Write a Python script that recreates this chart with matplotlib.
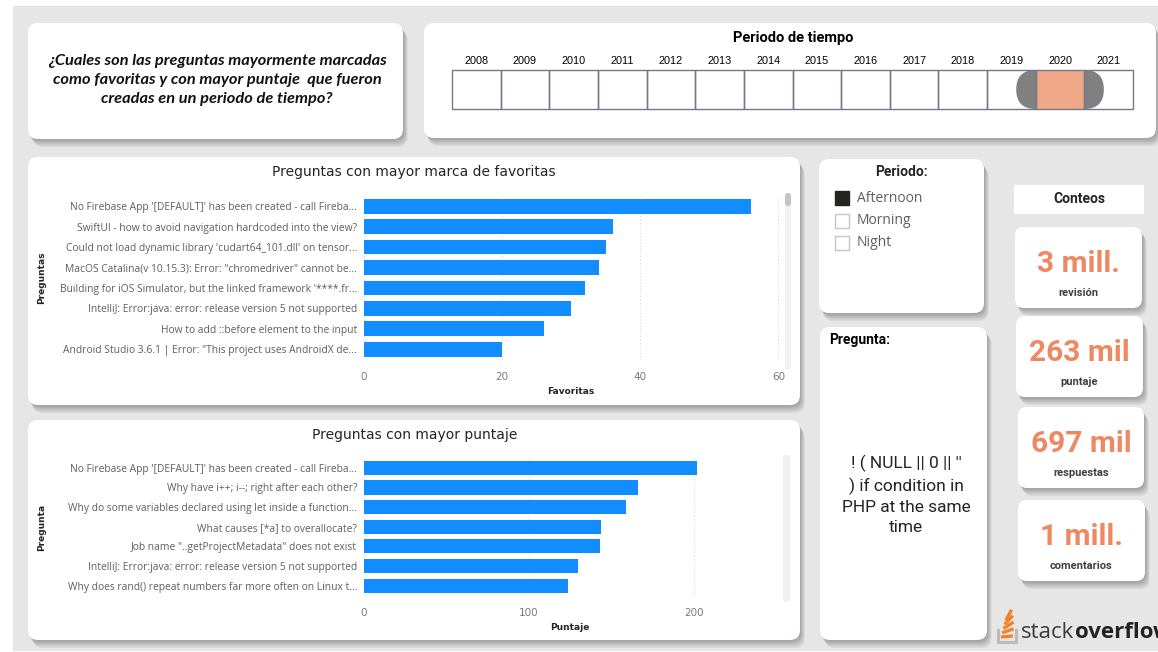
import numpy as np
import matplotlib.pyplot as plt
from matplotlib.patches import FancyBboxPatch, Rectangle

W, H = 1158, 652

# ── Data ─────────────────────────────────────────────────────────
fav_labels = [
    "No Firebase App '[DEFAULT]' has been created - call Fireba...",
    "SwiftUI - how to avoid navigation hardcoded into the view?",
    "Could not load dynamic library 'cudart64_101.dll' on tensor...",
    "MacOS Catalina(v 10.15.3): Error: \"chromedriver\" cannot be...",
    "Building for iOS Simulator, but the linked framework '****.fr...",
    "IntelliJ: Error:java: error: release version 5 not supported",
    "How to add ::before element to the input",
    "Android Studio 3.6.1 | Error: \"This project uses AndroidX de...",
]
fav_values = [56, 36, 35, 34, 32, 30, 26, 20]

score_labels = [
    "No Firebase App '[DEFAULT]' has been created - call Fireba...",
    "Why have i++; i--; right after each other?",
    "Why do some variables declared using let inside a function...",
    "What causes [*a] to overallocate?",
    "Job name \"..getProjectMetadata\" does not exist",
    "IntelliJ: Error:java: error: release version 5 not supported",
    "Why does rand() repeat numbers far more often on Linux t...",
]
score_values = [202, 166, 159, 144, 143, 130, 124]

years = list(range(2008, 2022))
selected_year = 2020

periods = ["Afternoon", "Morning", "Night"]
selected_period = "Afternoon"

kpi_values = ["3 mill.", "263 mil", "697 mil", "1 mill."]
kpi_names = ["revisión", "puntaje", "respuestas", "comentarios"]

pregunta = "! ( NULL || 0 || ''\n) if condition in\nPHP at the same\ntime"

question = ("¿Cuales son las preguntas mayormente marcadas\n"
            "como favoritas y con mayor puntaje  que fueron\n"
            "creadas en un periodo de tiempo?")

BLUE = '#118DFF'
ORANGE = '#EE8862'
DARK = '#252423'
GRAY_TXT = '#605E5C'

# ── Canvas in pixel coordinates ──────────────────────────────────
fig = plt.figure(figsize=(W / 100, H / 100), dpi=100)
fig.patch.set_facecolor('white')
bg = fig.add_axes([0, 0, 1, 1])
bg.set_xlim(0, W)
bg.set_ylim(H, 0)
bg.axis('off')
bg.add_patch(Rectangle((13, 6), W - 13, 644, color='#E6E6E6', zorder=0))


def panel(x0, y0, x1, y1, r=10, shadow=True):
    if shadow:
        for i in range(6):
            off = 1.5 + i * 1.3
            bg.add_patch(FancyBboxPatch(
                (x0 + off * 0.6, y0 + off), x1 - x0, y1 - y0,
                boxstyle=f'round,pad=0,rounding_size={r}',
                fc='black', ec='none', alpha=0.05, zorder=1))
    bg.add_patch(FancyBboxPatch(
        (x0, y0), x1 - x0, y1 - y0,
        boxstyle=f'round,pad=0,rounding_size={r}',
        fc='white', ec='none', zorder=2))


def ax_px(x0, y0, x1, y1):
    return fig.add_axes([x0 / W, 1 - y1 / H, (x1 - x0) / W, (y1 - y0) / H])


# ── Panels ───────────────────────────────────────────────────────
panel(28, 23, 403, 139)
panel(424, 23, 1156, 138)
panel(28, 157, 800, 405)
panel(28, 420, 800, 640)
panel(819, 159, 984, 313)
panel(820, 327, 987, 640)
kpi_boxes = [(1015, 227, 1142, 308), (1016, 316, 1143, 397),
             (1018, 407, 1144, 488), (1018, 500, 1145, 581)]
for (x0, y0, x1, y1) in kpi_boxes:
    panel(x0, y0, x1, y1, r=9)
bg.add_patch(Rectangle((1014, 185), 130, 29, fc='white', ec='none', zorder=2))

# ── Question text ───────────────────────────────────────────────
bg.text(217, 80, question, ha='center', va='center', fontsize=11.8,
        family='Lato', weight='bold', style='italic', color='#111111',
        linespacing=1.5, zorder=3)

# ── Period timeline ──────────────────────────────────────────────
bg.text(793, 38, 'Periodo de tiempo', ha='center', va='center',
        fontsize=10.5, family='Roboto', weight='bold', color='black', zorder=3)
bx0, bx1, by0, by1 = 452, 1133, 70, 109
bw = (bx1 - bx0) / len(years)
for i, yr in enumerate(years):
    x = bx0 + i * bw
    bg.text(x + bw / 2, 61, str(yr), ha='center', va='center', fontsize=7.8,
            family=['Liberation Sans Narrow', 'Liberation Sans'],
            color='black', zorder=3)
    if yr == selected_year:
        rr = (by1 - by0) / 2
        bg.add_patch(FancyBboxPatch(
            (x - rr, by0), bw + 2 * rr, by1 - by0,
            boxstyle=f'round,pad=0,rounding_size={rr}',
            fc='#808080', ec='none', zorder=3))
        bg.add_patch(Rectangle((x, by0), bw, by1 - by0, fc='#F0A888',
                               ec='none', zorder=4))
    bg.add_patch(Rectangle((x, by0), bw, by1 - by0, fc='none',
                           ec='#77778A', lw=1, zorder=5))

# ── Bar charts ───────────────────────────────────────────────────
def bar_chart(box, labels, values, xmax, ticks):
    ax = ax_px(*box)
    n = len(values)
    ax.barh(np.arange(n), values, height=0.72, color=BLUE, zorder=3)
    ax.set_ylim(n - 0.5, -0.5)
    ax.set_xlim(0, xmax)
    ax.set_xticks(ticks)
    ax.set_yticks(np.arange(n))
    ax.set_yticklabels(labels, fontsize=7.4, color=GRAY_TXT, family='Open Sans')
    ax.tick_params(axis='x', length=0, pad=9, labelsize=7.5, labelcolor='#7A7A7A')
    ax.tick_params(axis='y', length=0, pad=5)
    ax.grid(axis='x', color='#D6D6D6', linestyle=(0, (1, 2)), lw=0.8, zorder=0)
    ax.set_facecolor('none')
    for s in ax.spines.values():
        s.set_visible(False)
    return ax


bar_chart((364, 196, 780.5, 359.5), fav_labels, fav_values, 60.3, [0, 20, 40, 60])
bar_chart((364, 458, 776, 595.5), score_labels, score_values, 250, [0, 100, 200])

bg.text(414, 172, 'Preguntas con mayor marca de favoritas', ha='center',
        va='center', fontsize=10, family='DejaVu Sans', color=DARK, zorder=3)
bg.text(415, 435, 'Preguntas con mayor puntaje', ha='center',
        va='center', fontsize=10, family='DejaVu Sans', color=DARK, zorder=3)
bg.text(42, 278, 'Preguntas', rotation=90, ha='center', va='center',
        fontsize=6.5, weight='bold', color=DARK, zorder=3)
bg.text(42, 527, 'Pregunta', rotation=90, ha='center', va='center',
        fontsize=6.5, weight='bold', color=DARK, zorder=3)
bg.text(571, 392, 'Favoritas', ha='center', va='center',
        fontsize=6.5, weight='bold', color=DARK, zorder=3)
bg.text(570, 627, 'Puntaje', ha='center', va='center',
        fontsize=6.5, weight='bold', color=DARK, zorder=3)

# scroll bars
bg.add_patch(FancyBboxPatch((785, 193), 6, 177, boxstyle='round,pad=0,rounding_size=3',
                            fc='#F1F1F1', ec='none', zorder=3))
bg.add_patch(FancyBboxPatch((785, 193), 6, 13, boxstyle='round,pad=0,rounding_size=3',
                            fc='#C4C4C4', ec='none', zorder=4))
bg.add_patch(FancyBboxPatch((783, 455), 7, 147, boxstyle='round,pad=0,rounding_size=3',
                            fc='#F1F1F1', ec='none', zorder=3))

# ── Period slicer ────────────────────────────────────────────────
bg.text(902, 172, 'Periodo:', ha='center', va='center', fontsize=10,
        family='Roboto', weight='bold', color=DARK, zorder=3)
for i, p in enumerate(periods):
    y = 198 + i * 22.5
    on = p == selected_period
    bg.add_patch(Rectangle((835, y - 7), 14, 14, fc=DARK if on else 'white',
                           ec=DARK if on else '#C8C6C4', lw=1, zorder=3))
    bg.text(857, y, p, ha='left', va='center', fontsize=10,
            family='Open Sans', color=GRAY_TXT, zorder=3)

# ── Pregunta card ────────────────────────────────────────────────
bg.text(829, 340, 'Pregunta:', ha='left', va='center', fontsize=10,
        family='Roboto', weight='bold', color='black', zorder=3)
bg.text(906, 495, pregunta, ha='center', va='center', fontsize=12.5,
        family='Roboto', color=DARK, linespacing=1.42, zorder=3)

# ── KPI cards ────────────────────────────────────────────────────
bg.text(1079, 199, 'Conteos', ha='center', va='center', fontsize=10,
        family='Roboto', weight='bold', color=DARK, zorder=3)
for (x0, y0, x1, y1), v, n in zip(kpi_boxes, kpi_values, kpi_names):
    cx = (x0 + x1) / 2
    bg.text(cx, y0 + 37, v, ha='center', va='center', fontsize=21.5,
            family='Roboto', weight='bold', color=ORANGE, zorder=3)
    bg.text(cx, y0 + 66, n, ha='center', va='center', fontsize=8,
            family='Roboto', weight='bold', color='#404040', zorder=3)

# ── stackoverflow logo ───────────────────────────────────────────
bg.plot([998, 998, 1016, 1016], [630, 642, 642, 630], color='#BCBBBB',
        lw=2.2, solid_joinstyle='miter', zorder=3)
for k in range(5):
    ang = np.deg2rad(-5 - k * 14)
    x0s, y0s = 1001 + k * 1.2, 637 - k * 4.2
    bg.plot([x0s, x0s + 12 * np.cos(ang)], [y0s, y0s + 12 * np.sin(ang)],
            color='#F48024', lw=2.3, solid_capstyle='butt', zorder=3)
bg.text(1021, 632, 'stack', ha='left', va='center', fontsize=16,
        family='Open Sans', color='#3B3B3B', zorder=3)
bg.text(1075, 632, 'overflow', ha='left', va='center', fontsize=16,
        family='Open Sans', weight='bold', color='#222222', zorder=3,
        clip_on=True)

fig.savefig('out.png', dpi=100, facecolor='white')
